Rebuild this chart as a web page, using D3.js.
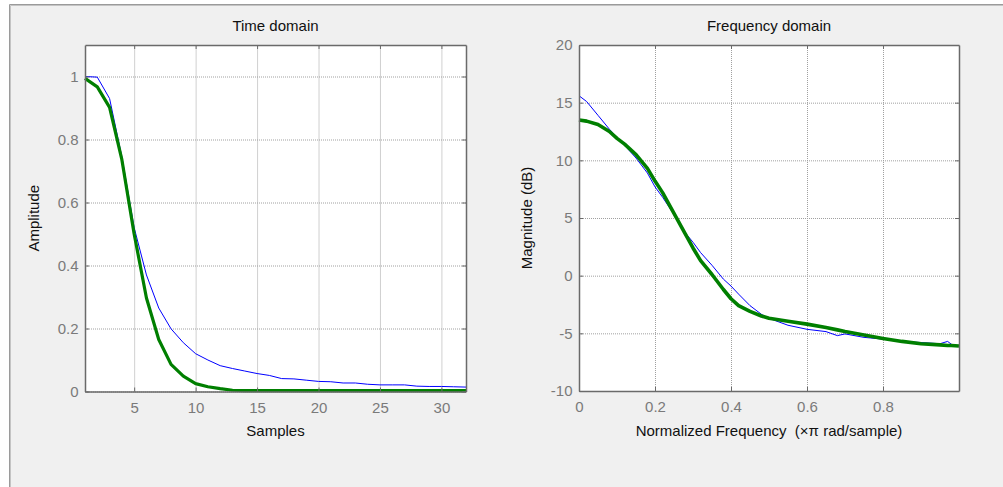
<!DOCTYPE html>
<html>
<head>
<meta charset="utf-8">
<script src="https://cdn.jsdelivr.net/npm/d3@7"></script>
<style>
  html, body { margin: 0; padding: 0; background: #fff; }
  svg { display: block; }
  text { font-family: Arial, "Liberation Sans", sans-serif; white-space: pre; }
</style>
</head>
<body>
<svg id="chart" width="1003" height="487"></svg>
<script>
// time domain: samples 1..32
var samples = d3.range(1, 33);
var timeBlue = [1.0, 0.998, 0.93, 0.745, 0.52, 0.37, 0.265, 0.199, 0.155, 0.12, 0.1, 0.082,
    0.073, 0.065, 0.057, 0.051, 0.041, 0.04, 0.036, 0.032, 0.031, 0.027, 0.027, 0.023,
    0.021, 0.021, 0.021, 0.017, 0.016, 0.016, 0.015, 0.014];
var timeGreen = [0.994, 0.967, 0.902, 0.736, 0.5, 0.297, 0.165, 0.086, 0.049, 0.025, 0.015, 0.009,
    0.004, 0.003, 0.003, 0.003, 0.003, 0.003, 0.003, 0.003, 0.003, 0.003, 0.003, 0.003,
    0.003, 0.003, 0.003, 0.003, 0.003, 0.003, 0.003, 0.003];
var timeXTicks = [5, 10, 15, 20, 25, 30];
var timeYTicks = [0, 0.2, 0.4, 0.6, 0.8, 1];

// frequency domain: normalized frequency (x pi rad/sample)
var freqs = [0, 0.02, 0.05, 0.08, 0.1, 0.12, 0.15, 0.18, 0.2, 0.22, 0.25, 0.28, 0.3, 0.32,
    0.35, 0.38, 0.4, 0.42, 0.45, 0.48, 0.5, 0.55, 0.6, 0.65, 0.68, 0.7, 0.75, 0.8, 0.85,
    0.9, 0.95, 0.97, 0.98, 1.0];
var magBlue = [15.6, 15.1, 13.9, 12.7, 12.0, 11.3, 10.2, 8.9, 7.7, 6.8, 5.3, 3.7, 2.9, 2.0,
    0.9, -0.3, -0.9, -1.6, -2.6, -3.35, -3.7, -4.3, -4.65, -4.85, -5.2, -5.05, -5.35, -5.5, -5.7,
    -5.8, -5.9, -5.7, -5.95, -6.1];
var magGreen = [13.5, 13.4, 13.1, 12.5, 11.9, 11.4, 10.5, 9.3, 8.2, 7.2, 5.4, 3.6, 2.4, 1.3,
    0.1, -1.2, -2.0, -2.6, -3.1, -3.5, -3.7, -3.95, -4.2, -4.5, -4.7, -4.85, -5.15, -5.45, -5.7,
    -5.9, -6.0, -6.05, -6.05, -6.1];
var freqXTicks = [0, 0.2, 0.4, 0.6, 0.8];
var freqYTicks = [-10, -5, 0, 5, 10, 15, 20];

var svg = d3.select('#chart');

// figure panel
svg.append('rect')
    .attr('x', 10).attr('y', 5)
    .attr('width', 1100).attr('height', 600)
    .attr('fill', '#f0f0f0');
svg.append('path')
    .attr('d', 'M9.5,600V4.5H1100')
    .attr('fill', 'none').attr('stroke', '#9a9a9a').attr('stroke-width', 1);
svg.append('path')
    .attr('d', 'M10.5,600V5.5H1100')
    .attr('fill', 'none').attr('stroke', '#c4c4c4').attr('stroke-width', 1);

function panel(opt) {
    var x = d3.scaleLinear().domain(opt.xDomain).range([opt.left, opt.right]);
    var y = d3.scaleLinear().domain(opt.yDomain).range([opt.bottom, opt.top]);
    var w = opt.right - opt.left, h = opt.bottom - opt.top;
    var g = svg.append('g');

    g.append('rect')
        .attr('x', opt.left).attr('y', opt.top)
        .attr('width', w).attr('height', h)
        .attr('fill', '#fff');

    // dotted grid
    g.append('g')
        .attr('transform', 'translate(0,' + opt.bottom + ')')
        .call(d3.axisBottom(x).tickValues(opt.xTicks).tickSize(-h).tickFormat(''))
        .call(function(s){ s.select('.domain').remove(); });
    g.append('g')
        .attr('transform', 'translate(' + opt.left + ',0)')
        .call(d3.axisLeft(y).tickValues(opt.yTicks).tickSize(-w).tickFormat(''))
        .call(function(s){ s.select('.domain').remove(); });
    g.selectAll('.tick line')
        .attr('stroke', '#a0a0a0')
        .attr('stroke-dasharray', '1,1');

    // data lines
    var line = d3.line()
        .x(function(d){ return x(d[0]); })
        .y(function(d){ return y(d[1]); });
    g.append('path')
        .datum(d3.zip(opt.xs, opt.blue))
        .attr('d', line)
        .attr('fill', 'none').attr('stroke', '#0000ff').attr('stroke-width', 1);
    g.append('path')
        .datum(d3.zip(opt.xs, opt.green))
        .attr('d', line)
        .attr('fill', 'none').attr('stroke', '#007f00')
        .attr('stroke-width', opt.greenWidth)
        .attr('stroke-linejoin', 'round');

    // box axes with inward ticks
    var axes = [
        [d3.axisBottom(x).tickValues(opt.xTicks).tickFormat(String), 'translate(0,' + opt.bottom + ')', true],
        [d3.axisTop(x).tickValues(opt.xTicks).tickFormat(''), 'translate(0,' + opt.top + ')', false],
        [d3.axisLeft(y).tickValues(opt.yTicks).tickFormat(String), 'translate(' + opt.left + ',0)', true],
        [d3.axisRight(y).tickValues(opt.yTicks).tickFormat(''), 'translate(' + opt.right + ',0)', false]
    ];
    axes.forEach(function(a, i) {
        var ax = g.append('g')
            .attr('transform', a[1])
            .call(a[0].tickSizeInner(-4).tickSizeOuter(0).tickPadding(i === 0 ? 10.5 : 6.5));
        ax.select('.domain').attr('stroke', '#6a6a6a').attr('stroke-width', 1.5);
        ax.selectAll('.tick line').attr('stroke', '#6a6a6a');
        ax.selectAll('text')
            .attr('fill', '#7a7a7a')
            .style('font-size', '15px');
    });

    // title and labels
    var cx = (opt.left + opt.right) / 2, cy = (opt.top + opt.bottom) / 2;
    g.append('text')
        .attr('x', cx).attr('y', 31)
        .attr('text-anchor', 'middle')
        .style('font-size', '15px').attr('fill', '#111')
        .text(opt.title);
    g.append('text')
        .attr('x', cx).attr('y', 435.5)
        .attr('text-anchor', 'middle')
        .style('font-size', '15px').attr('fill', '#111')
        .text(opt.xLabel);
    g.append('text')
        .attr('transform', 'translate(' + opt.yLabelX + ',' + cy + ') rotate(-90)')
        .attr('text-anchor', 'middle')
        .style('font-size', '15px').attr('fill', '#111')
        .text(opt.yLabel);
}

panel({
    left: 85, right: 466, top: 45, bottom: 391.5,
    xDomain: [1, 32], yDomain: [0, 1.1],
    xTicks: timeXTicks, yTicks: timeYTicks,
    xs: samples, blue: timeBlue, green: timeGreen, greenWidth: 3.2,
    title: 'Time domain', xLabel: 'Samples', yLabel: 'Amplitude', yLabelX: 38.5
});

panel({
    left: 579, right: 959, top: 45, bottom: 391,
    xDomain: [0, 1], yDomain: [-10, 20],
    xTicks: freqXTicks, yTicks: freqYTicks,
    xs: freqs, blue: magBlue, green: magGreen, greenWidth: 3.6,
    title: 'Frequency domain', xLabel: 'Normalized Frequency  (\u00d7\u03c0 rad/sample)',
    yLabel: 'Magnitude (dB)', yLabelX: 531.5
});
</script>
</body>
</html>
